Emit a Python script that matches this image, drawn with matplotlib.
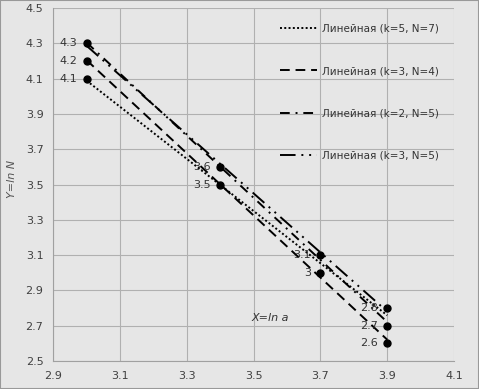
import numpy as np
import matplotlib.pyplot as plt

x = np.array([3.0, 3.4, 3.7, 3.9])
y_k5n7 = np.array([4.1, 3.5, 3.0, 2.8])
y_k3n4 = np.array([4.2, 3.5, 3.0, 2.6])
y_k2n5 = np.array([4.3, 3.6, 3.1, 2.7])
y_k3n5 = np.array([4.3, 3.6, 3.1, 2.8])

pt_x = [3.0, 3.0, 3.0, 3.4, 3.4, 3.7, 3.7, 3.9, 3.9, 3.9]
pt_y = [4.3, 4.2, 4.1, 3.6, 3.5, 3.1, 3.0, 2.8, 2.7, 2.6]
pt_lbl = ['4.3', '4.2', '4.1', '3.6', '3.5', '3.1', '3', '2.8', '2.7', '2.6']

labels = ['Линейная (k=5, N=7)', 'Линейная (k=3, N=4)',
          'Линейная (k=2, N=5)', 'Линейная (k=3, N=5)']
styles = [(0, (1, 1.2)), (0, (5, 3)), (0, (5, 3, 1, 3)), (0, (8, 3, 1, 3, 1, 3))]
series = [y_k5n7, y_k3n4, y_k2n5, y_k3n5]

bg = '#e6e6e6'
fig = plt.figure(figsize=(4.79, 3.89), dpi=100, facecolor=bg)
ax = fig.add_axes([0.111, 0.072, 0.837, 0.907], facecolor=bg)

# linear trendlines through each series
for ys, ls, lb in zip(series, styles, labels):
    slope, intercept = np.polyfit(x, ys, 1)
    ax.plot(x, slope * x + intercept, color='black', linestyle=ls, lw=1.4, label=lb)

ax.plot(pt_x, pt_y, 'o', color='black', ms=5)
for px, py, t in zip(pt_x, pt_y, pt_lbl):
    ax.annotate(t, (px, py), xytext=(-7, 0), textcoords='offset points',
                ha='right', va='center', fontsize=8, color='#333333')

ax.set_xlim(2.9, 4.1)
ax.set_ylim(2.5, 4.5)
ax.set_xticks(np.arange(2.9, 4.11, 0.2))
ax.set_yticks(np.arange(2.5, 4.51, 0.2))
ax.set_xticklabels(['2.9', '3.1', '3.3', '3.5', '3.7', '3.9', '4.1'])
ax.set_yticklabels(['2.5', '2.7', '2.9', '3.1', '3.3', '3.5', '3.7', '3.9', '4.1', '4.3', '4.5'])
ax.tick_params(labelsize=8, colors='#404040', length=0, pad=7)
ax.grid(True, color='#b0b0b0', lw=0.8)
ax.set_axisbelow(True)
for s in ['top', 'right']:
    ax.spines[s].set_visible(False)
for s in ['left', 'bottom']:
    ax.spines[s].set_color('#a0a0a0')

ax.text(3.55, 2.725, 'X=ln a', style='italic', fontsize=8, color='#333333', ha='center')
fig.text(0.025, 0.54, 'Y=ln N', style='italic', fontsize=8, color='#555555',
         rotation=90, ha='center', va='center')

ax.legend(loc='upper right', frameon=False, fontsize=7.5, labelspacing=3.1,
          handlelength=3.6, handletextpad=0.4, borderaxespad=1.1, labelcolor='#333333')

fig.patches.append(plt.Rectangle((0, 0), 1, 1, transform=fig.transFigure,
                                 fill=False, edgecolor='#999999', lw=1.5))
fig.savefig('out.png', dpi=100, facecolor=bg)
